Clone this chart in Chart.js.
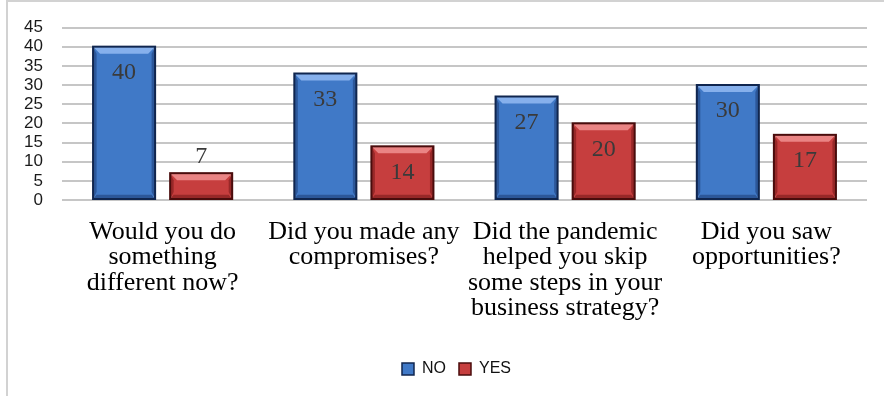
<!DOCTYPE html>
<html lang="en">

<head>
    <meta charset="UTF-8">
    <title>Survey answers</title>
    <style>
        body {
            margin: 0;
            padding: 0;
            background-color: #fff;
        }

        #frame {
            position: absolute;
            left: 6px;
            top: 0;
            width: 878px;
            height: 396px;
            border-top: 2px solid #d2d2d2;
            border-left: 2px solid #d2d2d2;
            box-sizing: border-box;
        }

        #chart-box {
            position: absolute;
            left: 0;
            top: 0;
            width: 884px;
            height: 396px;
        }
    </style>
</head>

<body>
    <div id="frame"></div>
    <div id="chart-box">
        <canvas id="surveyChart"></canvas>
    </div>

    <script src="https://cdn.jsdelivr.net/npm/chart.js"></script>
    <script>
        // datos
        const categories = [
            ['Would you do', 'something', 'different now?'],
            ['Did you made any', 'compromises?'],
            ['Did the pandemic', 'helped you skip', 'some steps in your', 'business strategy?'],
            ['Did you saw', 'opportunities?']
        ];
        const seriesNames = ['NO', 'YES'];
        const noValues = [40, 33, 27, 30];
        const yesValues = [7, 14, 20, 17];
        const yMax = 45;
        const yStep = 5;

        const palette = {
            NO: { fill: '#4079c7', light: '#86b0ec', dark: '#2c5799', edge: '#10264f' },
            YES: { fill: '#c63e3e', light: '#ea8484', dark: '#972828', edge: '#4a0c0c' }
        };

        // bisel tipo Excel encima de cada barra + etiquetas de valor
        const bevelPlugin = {
            id: 'bevel',
            afterDatasetsDraw(chart) {
                const ctx = chart.ctx;
                chart.data.datasets.forEach((ds, i) => {
                    const meta = chart.getDatasetMeta(i);
                    const col = palette[ds.label];
                    meta.data.forEach((bar, j) => {
                        const l = bar.x - bar.width / 2;
                        const r = bar.x + bar.width / 2;
                        const t = bar.y;
                        const b = bar.base;
                        const bv = Math.min(7, (b - t) / 3);
                        ctx.save();
                        // top
                        ctx.fillStyle = col.light;
                        ctx.beginPath();
                        ctx.moveTo(l, t);
                        ctx.lineTo(r, t);
                        ctx.lineTo(r - bv, t + bv);
                        ctx.lineTo(l + bv, t + bv);
                        ctx.closePath();
                        ctx.fill();
                        // sides
                        ctx.fillStyle = col.dark;
                        ctx.beginPath();
                        ctx.moveTo(l, t);
                        ctx.lineTo(l + bv * 0.5, t + bv);
                        ctx.lineTo(l + bv * 0.5, b - bv);
                        ctx.lineTo(l, b);
                        ctx.closePath();
                        ctx.fill();
                        ctx.beginPath();
                        ctx.moveTo(r, t);
                        ctx.lineTo(r - bv * 0.5, t + bv);
                        ctx.lineTo(r - bv * 0.5, b - bv);
                        ctx.lineTo(r, b);
                        ctx.closePath();
                        ctx.fill();
                        // bottom
                        ctx.beginPath();
                        ctx.moveTo(l, b);
                        ctx.lineTo(r, b);
                        ctx.lineTo(r - bv * 0.5, b - bv * 0.6);
                        ctx.lineTo(l + bv * 0.5, b - bv * 0.6);
                        ctx.closePath();
                        ctx.fill();
                        ctx.strokeStyle = col.edge;
                        ctx.lineWidth = 2;
                        ctx.strokeRect(l, t, r - l, b - t);

                        // valor
                        const v = ds.data[j];
                        ctx.font = '24px "Liberation Serif", serif';
                        ctx.fillStyle = '#3a3a3a';
                        ctx.textAlign = 'center';
                        ctx.textBaseline = 'middle';
                        const ly = (b - t) > 40 ? t + 26 : t - 16;
                        ctx.fillText(String(v), bar.x, ly);
                        ctx.restore();
                    });
                });
            }
        };

        // la leyenda del original esta un poco desplazada a la derecha
        const legendShift = {
            id: 'legendShift',
            afterLayout(chart) {
                chart.legend.left += 23;
                chart.legend.right += 23;
            }
        };

        const ctx = document.getElementById('surveyChart').getContext('2d');
        const surveyChart = new Chart(ctx, {
            type: 'bar',
            data: {
                labels: categories,
                datasets: [{
                    label: seriesNames[0],
                    data: noValues,
                    backgroundColor: palette.NO.fill,
                    borderColor: palette.NO.edge,
                    borderWidth: 1.5
                }, {
                    label: seriesNames[1],
                    data: yesValues,
                    backgroundColor: palette.YES.fill,
                    borderColor: palette.YES.edge,
                    borderWidth: 1.5
                }]
            },
            options: {
                responsive: true,
                maintainAspectRatio: false,
                animation: false,
                categoryPercentage: 0.766,
                barPercentage: 0.805,
                layout: {
                    padding: { top: 19, right: 17, bottom: 9, left: 0 }
                },
                plugins: {
                    legend: {
                        position: 'bottom',
                        labels: {
                            boxWidth: 12,
                            boxHeight: 12,
                            padding: 13,
                            color: '#111',
                            font: { family: '"Liberation Sans", sans-serif', size: 16 }
                        }
                    },
                    tooltip: { enabled: false }
                },
                scales: {
                    x: {
                        grid: { display: false },
                        border: { display: false },
                        ticks: {
                            maxRotation: 0,
                            autoSkip: false,
                            padding: 11,
                            color: '#000',
                            font: { family: '"Liberation Serif", serif', size: 26, lineHeight: 0.98 }
                        },
                        afterFit(scale) {
                            scale.height = 148;
                        }
                    },
                    y: {
                        min: 0,
                        max: yMax,
                        border: { display: false },
                        grid: { color: '#c6c6c6', lineWidth: 2, drawTicks: false },
                        ticks: {
                            stepSize: yStep,
                            autoSkip: false,
                            padding: 19,
                            color: '#1a1a1a',
                            font: { family: '"Liberation Sans", sans-serif', size: 17, lineHeight: 1 }
                        },
                        afterFit(scale) {
                            scale.width = 62;
                        }
                    }
                }
            },
            plugins: [bevelPlugin, legendShift]
        });
    </script>
</body>

</html>
